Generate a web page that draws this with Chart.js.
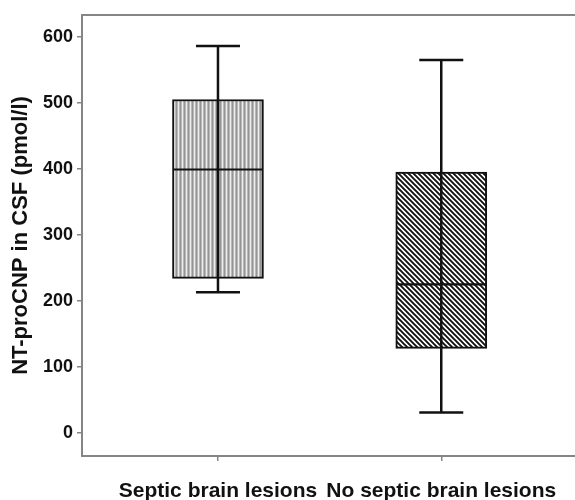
<!DOCTYPE html>
<html>
<head>
<meta charset="utf-8">
<script src="https://cdn.jsdelivr.net/npm/chart.js@4"></script>
<style>
html,body{margin:0;padding:0;background:#fff;}
#wrap{width:575px;height:500px;position:relative;}
</style>
</head>
<body>
<div id="wrap"><canvas id="c" width="575" height="500"></canvas></div>
<script>
const categories = ['Septic brain lesions', 'No septic brain lesions'];
const minVals = [213, 31];
const q1Vals = [234, 128];
const medianVals = [399, 225];
const q3Vals = [505, 395];
const maxVals = [586, 565];
const yTicks = [0, 100, 200, 300, 400, 500, 600];
const yTitle = 'NT-proCNP in CSF (pmol/l)';

function stripePattern() {
  const t = document.createElement('canvas');
  t.width = 4; t.height = 4;
  const g = t.getContext('2d');
  const cols = ['#959595', '#b8b8b8', '#eeeeee', '#b8b8b8'];
  cols.forEach((c, i) => { g.fillStyle = c; g.fillRect(i, 0, 1, 4); });
  return g.createPattern(t, 'repeat');
}
function hatchPattern() {
  const s = 5;
  const t = document.createElement('canvas');
  t.width = s; t.height = s;
  const g = t.getContext('2d');
  g.fillStyle = '#ffffff'; g.fillRect(0, 0, s, s);
  g.strokeStyle = '#111111'; g.lineWidth = 1.9;
  g.beginPath();
  g.moveTo(-1, -1); g.lineTo(s + 1, s + 1);
  g.moveTo(-1, s - 1); g.lineTo(1, s + 1);
  g.moveTo(s - 1, -1); g.lineTo(s + 1, 1);
  g.stroke();
  return g.createPattern(t, 'repeat');
}
const ctx = document.getElementById('c').getContext('2d');
const fills = [stripePattern(), hatchPattern()];

const boxData = categories.map((c, i) => ({x: i, y: [q1Vals[i], q3Vals[i]]}));
const whiskerData = categories.flatMap((c, i) => [{x: i, y: minVals[i]}, {x: i, y: maxVals[i]}, {x: i, y: null}]);
const capData = categories.flatMap((c, i) => [{x: i, y: minVals[i]}, {x: i, y: maxVals[i]}]);
const medData = categories.map((c, i) => ({x: i, y: medianVals[i]}));

const frameColor = '#858585';
const topBorder = {
  id: 'topBorder',
  afterDraw(chart) {
    const a = chart.chartArea, g = chart.ctx;
    g.save();
    g.strokeStyle = frameColor; g.lineWidth = 2;
    g.beginPath(); g.moveTo(a.left - 1, a.top); g.lineTo(a.right, a.top); g.stroke();
    g.restore();
  }
};
function noPad(s) { s.paddingLeft = 0; s.paddingRight = 0; s.paddingTop = 0; s.paddingBottom = 0; }

new Chart(ctx, {
  type: 'bar',
  data: {
    datasets: [
      {type: 'bar', data: boxData, backgroundColor: fills, borderColor: '#111', borderWidth: 2,
       borderSkipped: false, barThickness: 91, grouped: false, order: 3},
      {type: 'line', data: whiskerData, borderColor: '#111', borderWidth: 2.5, pointRadius: 0,
       spanGaps: false, order: 1},
      {type: 'line', data: capData, showLine: false, pointStyle: 'line', pointRadius: 22,
       pointBorderWidth: 2.5, pointBorderColor: '#111', order: 1},
      {type: 'line', data: medData, showLine: false, pointStyle: 'line', pointRadius: 45,
       pointBorderWidth: 2.2, pointBorderColor: '#111', order: 1}
    ]
  },
  options: {
    responsive: false,
    animation: false,
    events: [],
    layout: {autoPadding: false, padding: {top: 15, right: 0, bottom: 0, left: 0}},
    plugins: {legend: {display: false}, tooltip: {enabled: false}},
    scales: {
      x: {
        type: 'linear', min: -0.609, max: 1.599, offset: false,
        afterBuildTicks(s) { s.ticks = categories.map((c, i) => ({value: i})); },
        afterFit(s) { s.height = 44; noPad(s); },
        ticks: {
          callback: (v) => categories[v],
          font: {family: 'Liberation Sans', size: 21, weight: 'bold'},
          color: '#111', padding: 18, maxRotation: 0, autoSkip: false
        },
        grid: {offset: false, drawOnChartArea: false, drawTicks: true, tickLength: 5, color: frameColor, lineWidth: 1.5},
        border: {display: true, color: frameColor, width: 2}
      },
      y: {
        min: -35, max: 633,
        afterBuildTicks(s) { s.ticks = yTicks.map(v => ({value: v})); },
        afterFit(s) { s.width = 82; noPad(s); },
        ticks: {
          font: {family: 'Liberation Sans', size: 18, weight: 'bold'},
          color: '#111', padding: 4
        },
        grid: {drawOnChartArea: false, drawTicks: true, tickLength: 5, color: frameColor, lineWidth: 1.5},
        border: {display: true, color: frameColor, width: 2},
        title: {
          display: true, text: yTitle,
          font: {family: 'Liberation Sans', size: 22, weight: 'bold'},
          color: '#111', padding: {top: 8, bottom: 0}
        }
      }
    }
  },
  plugins: [topBorder]
});
</script>
</body>
</html>
